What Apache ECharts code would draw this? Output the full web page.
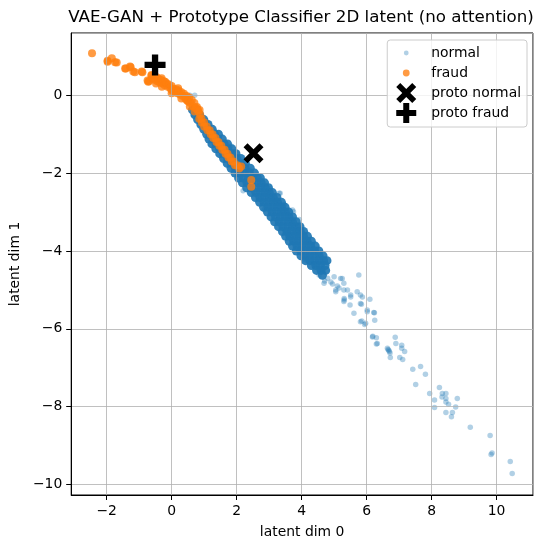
<!DOCTYPE html>
<html>
<head>
<meta charset="utf-8">
<script src="https://cdn.jsdelivr.net/npm/echarts@6/dist/echarts.min.js"></script>
<style>
  html, body { margin: 0; padding: 0; background: #fff; }
  #chart { width: 543px; height: 547px; }
</style>
</head>
<body>
<div id="chart"></div>
<script>
// dense core of the normal band: [y, [x values across the band]]
const normalCoreRows = [
  [-0.375, [0.64, 0.76]],
  [-0.5, [0.72, 0.86]],
  [-0.625, [0.8, 0.92, 0.99]],
  [-0.75, [0.9, 1.02, 1.12]],
  [-0.875, [0.99, 1.12, 1.25]],
  [-1.0, [1.08, 1.2, 1.32, 1.44]],
  [-1.125, [1.15, 1.28, 1.42, 1.56]],
  [-1.25, [1.24, 1.37, 1.5, 1.62, 1.72]],
  [-1.375, [1.36, 1.48, 1.6, 1.73, 1.85]],
  [-1.5, [1.48, 1.6, 1.73, 1.86, 1.98]],
  [-1.625, [1.6, 1.73, 1.86, 2.0, 2.13]],
  [-1.75, [1.71, 1.84, 1.98, 2.12, 2.27]],
  [-1.875, [1.83, 1.97, 2.11, 2.26, 2.42]],
  [-2.0, [1.95, 2.09, 2.24, 2.39, 2.55]],
  [-2.125, [2.06, 2.2, 2.35, 2.5, 2.64, 2.73]],
  [-2.25, [2.18, 2.32, 2.47, 2.62, 2.76, 2.86]],
  [-2.375, [2.31, 2.45, 2.6, 2.75, 2.88, 2.98]],
  [-2.5, [2.45, 2.59, 2.73, 2.87, 3.0, 3.1]],
  [-2.625, [2.58, 2.72, 2.86, 3.0, 3.13, 3.24]],
  [-2.75, [2.71, 2.85, 2.99, 3.13, 3.26, 3.38]],
  [-2.875, [2.83, 2.97, 3.11, 3.25, 3.38, 3.49]],
  [-3.0, [2.95, 3.09, 3.23, 3.37, 3.5, 3.6]],
  [-3.125, [3.06, 3.2, 3.34, 3.48, 3.61, 3.72]],
  [-3.25, [3.17, 3.31, 3.45, 3.59, 3.72, 3.83]],
  [-3.375, [3.29, 3.43, 3.57, 3.71, 3.84, 3.95]],
  [-3.5, [3.41, 3.55, 3.69, 3.83, 3.96, 4.06]],
  [-3.625, [3.51, 3.65, 3.79, 3.93, 4.06, 4.18]],
  [-3.75, [3.62, 3.76, 3.9, 4.04, 4.17, 4.3]],
  [-3.875, [3.72, 3.86, 4.0, 4.14, 4.28, 4.42]],
  [-4.0, [3.84, 3.98, 4.12, 4.26, 4.4, 4.53]],
  [-4.125, [3.98, 4.12, 4.26, 4.4, 4.54, 4.66]],
  [-4.25, [4.12, 4.26, 4.4, 4.54, 4.68, 4.78]],
  [-4.375, [4.3, 4.44, 4.58, 4.72]],
  [-4.5, [4.46, 4.6, 4.74]],
  [-4.625, [4.64]]
];

// scattered normal points (outliers and tail)
const normalScatter = [
  [0.56, 0.0], [0.71, 0.0], [0.66, -0.51], [0.81, -0.59], [0.92, -0.55], [1.27, -0.89],
  [1.63, -1.23], [1.82, -1.3], [2.1, -1.65], [2.4, -1.9], [2.7, -2.2], [2.2, -2.45],
  [3.01, -2.39], [3.06, -2.48], [3.06, -2.52], [3.34, -2.52], [3.31, -2.52],
  [2.85, -2.93], [2.85, -2.95], [3.45, -2.8], [3.47, -2.82], [3.59, -2.97], [3.72, -2.95],
  [3.75, -2.99], [3.93, -3.19], [3.59, -3.65], [3.57, -3.63], [3.88, -3.98], [4.1, -4.22],
  [4.13, -4.23], [4.1, -4.19], [4.38, -4.32], [4.59, -4.49], [4.54, -4.62], [4.71, -4.77],
  [4.69, -4.83], [4.8, -4.7], [4.9, -4.8], [4.95, -4.85], [5.0, -4.66], [5.2, -4.71],
  [5.25, -4.71], [5.1, -4.9], [5.15, -4.95], [5.3, -4.83], [5.05, -5.0], [5.05, -5.05],
  [5.41, -5.0], [5.3, -5.0], [5.31, -5.22], [5.31, -5.26], [5.3, -5.3], [5.51, -5.13],
  [5.51, -5.18], [5.49, -5.39], [5.61, -5.6], [5.76, -4.62], [5.71, -5.05], [5.81, -5.13],
  [5.87, -5.18], [5.84, -5.37], [5.81, -5.35], [6.1, -5.24], [6.02, -5.52], [6.02, -5.56],
  [6.22, -5.58], [6.24, -5.59], [6.25, -5.78], [5.81, -5.82], [5.85, -5.8], [5.94, -5.89],
  [5.97, -5.86], [6.18, -6.21], [6.19, -6.19], [6.3, -6.23], [6.3, -6.39], [6.33, -6.38],
  [6.64, -6.5], [6.66, -6.53], [6.68, -6.55], [6.7, -6.58], [6.72, -6.62], [6.73, -6.74],
  [6.88, -6.22], [6.9, -6.38], [7.08, -6.42], [7.08, -6.5], [7.17, -6.58], [7.02, -6.74],
  [7.11, -6.79], [7.42, -7.04], [7.66, -6.97], [7.81, -7.17], [7.51, -7.43], [7.94, -7.66],
  [8.24, -7.51], [8.33, -7.66], [8.44, -7.66], [8.32, -7.75], [8.44, -7.79], [8.09, -7.83],
  [8.44, -7.88], [8.52, -7.94], [8.79, -7.79], [8.74, -8.01], [8.09, -8.02], [8.44, -8.15],
  [8.64, -8.15], [8.61, -8.26], [9.19, -8.53], [9.8, -8.74], [9.86, -9.19], [9.83, -9.23],
  [10.42, -9.41], [10.48, -9.72]
];

const fraudPoints = [
  [-2.45, 1.08], [-1.97, 0.89], [-1.97, 0.86], [-1.84, 0.95], [-1.74, 0.85], [-1.69, 0.84],
  [-1.43, 0.69], [-1.41, 0.69], [-1.28, 0.74], [-1.26, 0.72], [-1.18, 0.61], [-1.13, 0.59],
  [-0.92, 0.61], [-0.9, 0.59], [-0.74, 0.38], [-0.72, 0.35], [-0.7, 0.36],
  [-0.62, 0.5], [-0.62, 0.52], [-0.58, 0.44], [-0.52, 0.4], [-0.48, 0.3], [-0.46, 0.46],
  [-0.44, 0.36], [-0.4, 0.42], [-0.36, 0.33], [-0.32, 0.39], [-0.31, 0.44], [-0.3, 0.22],
  [-0.28, 0.3], [-0.24, 0.36], [-0.21, 0.26], [-0.2, 0.35], [-0.16, 0.31], [-0.12, 0.22],
  [-0.08, 0.28], [-0.04, 0.18], [0.0, 0.24], [0.0, 0.14], [0.0, 0.05], [0.02, 0.12],
  [0.06, 0.17], [0.1, 0.08], [0.14, 0.15], [0.18, 0.05], [0.2, 0.18], [0.2, 0.09],
  [0.22, 0.12], [0.26, 0.02], [0.3, 0.08], [0.3, -0.08], [0.34, -0.02], [0.38, 0.04],
  [0.42, -0.08], [0.46, -0.02], [0.46, -0.12], [0.5, -0.14], [0.51, -0.16], [0.54, -0.06],
  [0.56, -0.29], [0.58, -0.2], [0.62, -0.12], [0.66, -0.28], [0.7, -0.2], [0.71, -0.42],
  [0.74, -0.34], [0.76, -0.33], [0.78, -0.3], [0.81, -0.38], [0.82, -0.42], [0.86, -0.38],
  [0.88, -0.5],
  [0.85, -0.6], [0.92, -0.6], [0.93, -0.7], [1.0, -0.7], [1.0, -0.8], [1.08, -0.8],
  [1.1, -0.9], [1.17, -0.9], [1.2, -1.0], [1.26, -1.0], [1.28, -1.1], [1.35, -1.1],
  [1.38, -1.2], [1.44, -1.2], [1.47, -1.3], [1.53, -1.3], [1.56, -1.4], [1.63, -1.4],
  [1.66, -1.5], [1.72, -1.5], [1.75, -1.6], [1.81, -1.6], [1.85, -1.7], [1.91, -1.7],
  [1.95, -1.8], [2.02, -1.8], [2.08, -1.88], [2.14, -1.83],
  [2.45, -2.18], [2.45, -2.35]
];

const protoNormal = [[2.52, -1.49]];
const protoFraud = [[-0.51, 0.78]];

const xMin = -3.09, xMax = 11.12;
const yMin = -10.27, yMax = 1.6;

const normalCore = [];
normalCoreRows.forEach(function (row) {
  row[1].forEach(function (x) { normalCore.push([x, row[0]]); });
});

const blue = '#1f77b4';
const orange = '#ff7f0e';
const fontFamily = 'DejaVu Sans';

const xPath = 'M4,0L10,6L16,0L20,4L14,10L20,16L16,20L10,14L4,20L0,16L6,10L0,4Z';
const plusPath = 'M7,0L13,0L13,7L20,7L20,13L13,13L13,20L7,20L7,13L0,13L0,7L7,7Z';
// legend icons padded into a 30x20 box so the marker sits at x=10
const pad = 'M0,0M30,20';
function circleIcon(r) {
  return 'path://' + pad + 'M' + (10 - r) + ',10A' + r + ',' + r + ',0,1,1,' + (10 + r) + ',10A' + r + ',' + r + ',0,1,1,' + (10 - r) + ',10Z';
}

const minus = function (v) { return String(v).replace('-', '\u2212'); };

const axisCommon = {
  type: 'value',
  z: 3,
  nameLocation: 'middle',
  nameTextStyle: { fontFamily: fontFamily, fontSize: 13.9, color: '#000' },
  axisLine: { onZero: false, lineStyle: { color: '#000', width: 1 } },
  axisTick: { show: true, length: 5, lineStyle: { color: '#000' } },
  axisLabel: {
    showMinLabel: false, showMaxLabel: false, margin: 9,
    fontFamily: fontFamily, fontSize: 13.9, color: '#000', formatter: minus
  },
  splitLine: { show: true, lineStyle: { color: '#b0b0b0', width: 0.8 } }
};

const myChart = echarts.init(document.getElementById('chart'));
const option = {
  animation: false,
  backgroundColor: '#fff',
  graphic: [{
    type: 'text',
    x: 301,
    y: 18,
    style: {
      text: 'VAE-GAN + Prototype Classifier 2D latent (no attention)',
      textAlign: 'center',
      textVerticalAlign: 'middle',
      fontFamily: fontFamily,
      fontSize: 16.7,
      fill: '#000'
    }
  }],
  legend: {
    orient: 'vertical',
    right: 16,
    top: 40,
    padding: [3, 6, 4, 9],
    itemGap: 0,
    itemWidth: 30,
    itemHeight: 20,
    backgroundColor: 'rgba(255,255,255,0.8)',
    borderColor: '#cccccc',
    borderWidth: 1,
    borderRadius: 3,
    textStyle: { fontFamily: fontFamily, fontSize: 13.9, color: '#000' },
    data: [
      { name: 'normal', icon: circleIcon(2.4) },
      { name: 'fraud', icon: circleIcon(3.4) },
      { name: 'proto normal', icon: 'path://' + pad + xPath },
      { name: 'proto fraud', icon: 'path://' + pad + plusPath }
    ]
  },
  grid: {
    left: 69,
    right: 10,
    top: 33,
    bottom: 52,
    show: true,
    borderColor: '#000',
    borderWidth: 1
  },
  xAxis: Object.assign({}, axisCommon, {
    min: xMin,
    max: xMax,
    splitNumber: 7,
    name: 'latent dim 0',
    nameGap: 30
  }),
  yAxis: Object.assign({}, axisCommon, {
    min: yMin,
    max: yMax,
    splitNumber: 6,
    name: 'latent dim 1',
    nameGap: 41
  }),
  series: [
    {
      name: 'normal',
      type: 'scatter',
      data: normalScatter,
      symbol: 'circle',
      symbolSize: 5.5,
      itemStyle: { color: blue, opacity: 0.35 }
    },
    {
      name: 'normal',
      type: 'scatter',
      data: normalCore,
      symbol: 'circle',
      symbolSize: 9,
      itemStyle: { color: blue, opacity: 0.92 }
    },
    {
      name: 'fraud',
      type: 'scatter',
      data: fraudPoints,
      symbol: 'circle',
      symbolSize: 8,
      itemStyle: { color: orange, opacity: 0.78 }
    },
    {
      name: 'proto normal',
      type: 'scatter',
      z: 5,
      data: protoNormal,
      symbol: 'path://' + xPath,
      symbolSize: 20,
      itemStyle: { color: '#000', opacity: 1 }
    },
    {
      name: 'proto fraud',
      type: 'scatter',
      z: 5,
      data: protoFraud,
      symbol: 'path://' + plusPath,
      symbolSize: 21,
      itemStyle: { color: '#000', opacity: 1 }
    }
  ]
};

option && myChart.setOption(option);
</script>
</body>
</html>
